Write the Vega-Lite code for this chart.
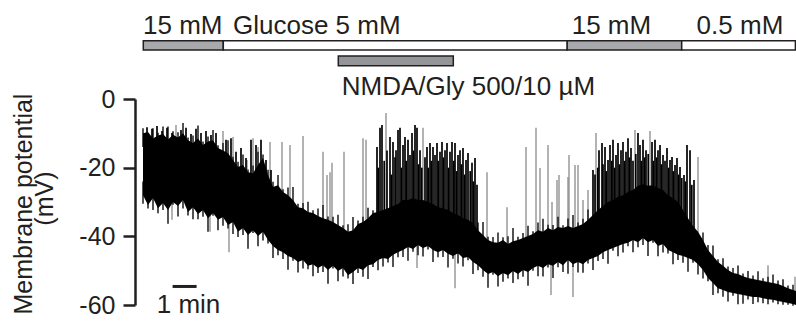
{
  "$schema": "https://vega.github.io/schema/vega-lite/v6.json",
  "width": 661,
  "height": 206,
  "autosize": {"type": "none"},
  "padding": {"left": 135, "top": 99, "right": 0, "bottom": 20},
  "config": {"view": {"stroke": null}, "font": "Liberation Sans"},
  "datasets": {
    "band": [
      {"t":20,"v":-10.0,"v2":-28.0},{"t":32.5,"v":-9.6,"v2":-30.9},{"t":45,"v":-11.5,"v2":-28.8},{"t":57.5,"v":-10.6,"v2":-31.8},
      {"t":70,"v":-10.2,"v2":-30.3},{"t":82.5,"v":-11.8,"v2":-32.3},{"t":95,"v":-10.4,"v2":-30.0},{"t":107.5,"v":-11.2,"v2":-31.2},
      {"t":120,"v":-10.0,"v2":-29.4},{"t":132.5,"v":-12.0,"v2":-32.9},{"t":145,"v":-12.8,"v2":-31.5},{"t":157.5,"v":-11.5,"v2":-33.5},
      {"t":170,"v":-13.4,"v2":-32.3},{"t":182.5,"v":-12.4,"v2":-34.7},{"t":195,"v":-12.0,"v2":-33.2},{"t":207.5,"v":-14.3,"v2":-35.2},
      {"t":220,"v":-15.0,"v2":-34.4},{"t":232.5,"v":-15.8,"v2":-36.7},{"t":245,"v":-17.8,"v2":-35.8},{"t":257.5,"v":-19.8,"v2":-38.7},
      {"t":270,"v":-19.2,"v2":-37.6},{"t":282.5,"v":-21.3,"v2":-39.6},{"t":295,"v":-21.6,"v2":-38.2},{"t":307.5,"v":-19.2,"v2":-39.9},
      {"t":320,"v":-17.2,"v2":-38.7},{"t":332.5,"v":-22.1,"v2":-41.1},{"t":345,"v":-25.6,"v2":-42.8},{"t":357.5,"v":-25.1,"v2":-44.0},
      {"t":370,"v":-27.1,"v2":-44.6},{"t":382.5,"v":-28.0,"v2":-45.7},{"t":395,"v":-29.4,"v2":-46.3},{"t":407.5,"v":-31.5,"v2":-47.5},
      {"t":420,"v":-31.8,"v2":-46.9},{"t":432.5,"v":-32.9,"v2":-48.6},{"t":445,"v":-33.2,"v2":-48.1},{"t":457.5,"v":-34.1,"v2":-49.2},
      {"t":470,"v":-34.7,"v2":-48.4},{"t":482.5,"v":-35.2,"v2":-49.8},{"t":495,"v":-35.8,"v2":-48.6},{"t":507.5,"v":-36.7,"v2":-50.1},
      {"t":520,"v":-37.6,"v2":-49.2},{"t":532.5,"v":-38.7,"v2":-51.3},{"t":545,"v":-38.2,"v2":-50.4},{"t":557.5,"v":-36.4,"v2":-49.2},
      {"t":570,"v":-35.8,"v2":-49.8},{"t":582.5,"v":-34.7,"v2":-48.4},{"t":595,"v":-33.2,"v2":-48.1},{"t":607.5,"v":-32.9,"v2":-46.9},
      {"t":620,"v":-32.3,"v2":-46.3},{"t":632.5,"v":-31.8,"v2":-46.6},{"t":645,"v":-31.2,"v2":-45.4},{"t":657.5,"v":-30.6,"v2":-44.6},
      {"t":670,"v":-29.4,"v2":-44.0},{"t":682.5,"v":-29.4,"v2":-43.1},{"t":695,"v":-28.8,"v2":-43.7},{"t":707.5,"v":-29.4,"v2":-42.5},
      {"t":720,"v":-29.4,"v2":-43.4},{"t":732.5,"v":-30.0,"v2":-42.8},{"t":745,"v":-30.6,"v2":-44.0},{"t":757.5,"v":-31.5,"v2":-44.6},
      {"t":770,"v":-31.8,"v2":-44.0},{"t":782.5,"v":-32.3,"v2":-45.1},{"t":795,"v":-33.2,"v2":-45.7},{"t":807.5,"v":-33.8,"v2":-44.9},
      {"t":820,"v":-34.7,"v2":-46.3},{"t":832.5,"v":-35.2,"v2":-46.0},{"t":845,"v":-36.1,"v2":-47.5},{"t":857.5,"v":-38.2,"v2":-48.4},
      {"t":870,"v":-39.6,"v2":-49.8},{"t":882.5,"v":-41.1,"v2":-51.0},{"t":895,"v":-41.7,"v2":-50.4},{"t":907.5,"v":-41.9,"v2":-51.6},
      {"t":920,"v":-41.1,"v2":-50.7},{"t":932.5,"v":-42.2,"v2":-51.3},{"t":945,"v":-41.4,"v2":-50.1},{"t":957.5,"v":-41.1,"v2":-51.0},
      {"t":970,"v":-40.5,"v2":-49.8},{"t":982.5,"v":-39.9,"v2":-50.4},{"t":995,"v":-39.3,"v2":-49.2},{"t":1007.5,"v":-38.2,"v2":-48.6},
      {"t":1020,"v":-38.7,"v2":-49.2},{"t":1032.5,"v":-37.6,"v2":-48.1},{"t":1045,"v":-38.2,"v2":-48.6},{"t":1057.5,"v":-37.3,"v2":-47.5},
      {"t":1070,"v":-37.6,"v2":-48.4},{"t":1082.5,"v":-37.0,"v2":-46.9},{"t":1095,"v":-37.6,"v2":-48.1},{"t":1107.5,"v":-37.0,"v2":-47.5},
      {"t":1120,"v":-36.4,"v2":-48.1},{"t":1132.5,"v":-35.2,"v2":-46.9},{"t":1145,"v":-33.8,"v2":-46.3},{"t":1157.5,"v":-32.3,"v2":-45.7},
      {"t":1170,"v":-31.2,"v2":-44.6},{"t":1182.5,"v":-30.0,"v2":-44.0},{"t":1195,"v":-29.4,"v2":-43.4},{"t":1207.5,"v":-28.5,"v2":-42.8},
      {"t":1220,"v":-28.0,"v2":-42.2},{"t":1232.5,"v":-27.1,"v2":-41.9},{"t":1245,"v":-26.5,"v2":-41.1},{"t":1257.5,"v":-25.3,"v2":-41.7},
      {"t":1270,"v":-24.8,"v2":-40.5},{"t":1282.5,"v":-25.3,"v2":-41.7},{"t":1295,"v":-25.1,"v2":-41.1},{"t":1307.5,"v":-25.9,"v2":-42.8},
      {"t":1320,"v":-26.5,"v2":-42.2},{"t":1332.5,"v":-28.0,"v2":-44.0},{"t":1345,"v":-28.8,"v2":-44.6},{"t":1357.5,"v":-30.0,"v2":-45.4},
      {"t":1370,"v":-32.3,"v2":-45.7},{"t":1382.5,"v":-34.7,"v2":-46.3},{"t":1395,"v":-37.0,"v2":-46.9},{"t":1407.5,"v":-38.7,"v2":-48.1},
      {"t":1420,"v":-41.1,"v2":-49.8},{"t":1432.5,"v":-44.0,"v2":-52.1},{"t":1445,"v":-45.7,"v2":-53.6},{"t":1457.5,"v":-47.5,"v2":-55.1},
      {"t":1470,"v":-48.6,"v2":-55.6},{"t":1482.5,"v":-49.8,"v2":-56.2},{"t":1495,"v":-50.7,"v2":-56.5},{"t":1507.5,"v":-51.0,"v2":-56.8},
      {"t":1520,"v":-51.6,"v2":-57.1},{"t":1532.5,"v":-52.1,"v2":-57.4},{"t":1545,"v":-52.4,"v2":-57.7},{"t":1557.5,"v":-52.7,"v2":-57.7},
      {"t":1570,"v":-53.0,"v2":-58.0},{"t":1582.5,"v":-53.3,"v2":-58.3},{"t":1595,"v":-53.6,"v2":-58.5},{"t":1607.5,"v":-53.9,"v2":-58.8},
      {"t":1620,"v":-54.5,"v2":-59.1},{"t":1632.5,"v":-55.1,"v2":-59.4},{"t":1645,"v":-55.6,"v2":-59.7},{"t":1652.5,"v":-55.9,"v2":-60.0}
    ],
    "spikes": [
      {"t":30,"v":-8.2,"v2":-22,"k":"b"},{"t":42.5,"v":-8.7,"v2":-22,"k":"b"},{"t":55,"v":-7.9,"v2":-22,"k":"b"},{"t":67.5,"v":-9.3,"v2":-22,"k":"b"},
      {"t":80,"v":-8.4,"v2":-22,"k":"b"},{"t":92.5,"v":-9.9,"v2":-22,"k":"b"},{"t":115,"v":-9.0,"v2":-22,"k":"b"},{"t":127.5,"v":-8.4,"v2":-22,"k":"b"},
      {"t":140,"v":-10.2,"v2":-22,"k":"b"},{"t":152.5,"v":-8.7,"v2":-22,"k":"b"},{"t":165,"v":-9.9,"v2":-22,"k":"b"},{"t":177.5,"v":-9.3,"v2":-22,"k":"b"},
      {"t":190,"v":-10.5,"v2":-22,"k":"b"},{"t":202.5,"v":-9.9,"v2":-24,"k":"b"},{"t":227.5,"v":-11.9,"v2":-26,"k":"b"},{"t":240,"v":-11.4,"v2":-26,"k":"b"},
      {"t":252.5,"v":-15.4,"v2":-30,"k":"b"},{"t":265,"v":-14.3,"v2":-30,"k":"b"},{"t":277.5,"v":-17.2,"v2":-30,"k":"b"},{"t":290,"v":-11.9,"v2":-30,"k":"b"},
      {"t":302.5,"v":-13.4,"v2":-30,"k":"b"},{"t":315,"v":-11.9,"v2":-30,"k":"b"},{"t":327.5,"v":-17.8,"v2":-30,"k":"b"},{"t":340,"v":-20.7,"v2":-32,"k":"b"},
      {"t":102.5,"v":-7.6,"v2":-22,"k":"g"},{"t":220,"v":-9.3,"v2":-25,"k":"g"},{"t":245,"v":-11.1,"v2":-30,"k":"g"},{"t":280,"v":-17.8,"v2":-30,"k":"g"},
      {"t":295,"v":-11.4,"v2":-30,"k":"g"},{"t":307.5,"v":-14.0,"v2":-30,"k":"g"},{"t":337.5,"v":-12.5,"v2":-35,"k":"g"},{"t":367.5,"v":-12.5,"v2":-38,"k":"g"},
      {"t":387.5,"v":-13.4,"v2":-40,"k":"g"},{"t":420,"v":-10.8,"v2":-40,"k":"g"},{"t":470,"v":-15.4,"v2":-42,"k":"g"},{"t":480,"v":-22.1,"v2":-42,"k":"g"},
      {"t":487.5,"v":-21.3,"v2":-42,"k":"g"},{"t":492.5,"v":-18.6,"v2":-42,"k":"g"},{"t":522.5,"v":-15.4,"v2":-42,"k":"g"},{"t":570,"v":-11.4,"v2":-40,"k":"g"},
      {"t":577.5,"v":-11.9,"v2":-40,"k":"g"},{"t":627.5,"v":-4.1,"v2":-38,"k":"g"},{"t":720,"v":-8.4,"v2":-36,"k":"g"},{"t":880,"v":-21.3,"v2":-46,"k":"g"},
      {"t":930,"v":-31.5,"v2":-46,"k":"g"},{"t":977.5,"v":-14.0,"v2":-44,"k":"g"},{"t":1002.5,"v":-8.4,"v2":-44,"k":"g"},{"t":1012.5,"v":-20.1,"v2":-44,"k":"g"},
      {"t":1032.5,"v":-13.4,"v2":-43,"k":"g"},{"t":1042.5,"v":-30.0,"v2":-43,"k":"g"},{"t":1055,"v":-23.6,"v2":-43,"k":"g"},{"t":1060,"v":-22.1,"v2":-43,"k":"g"},
      {"t":1082.5,"v":-22.7,"v2":-42,"k":"g"},{"t":1085,"v":-16.3,"v2":-42,"k":"g"},{"t":1100,"v":-19.2,"v2":-42,"k":"g"},{"t":1107.5,"v":-19.2,"v2":-42,"k":"g"},
      {"t":1120,"v":-29.4,"v2":-42,"k":"g"},{"t":1132.5,"v":-26.5,"v2":-41,"k":"g"},{"t":1152.5,"v":-9.9,"v2":-38,"k":"g"},{"t":1250,"v":-9.0,"v2":-34,"k":"g"},
      {"t":1287.5,"v":-9.3,"v2":-32,"k":"g"},{"t":1407.5,"v":-16.9,"v2":-42,"k":"g"},{"t":1582.5,"v":-48.4,"v2":-56,"k":"g"},{"t":1650,"v":-51.8,"v2":-57,"k":"g"},
      {"t":92.5,"v":-35.2,"v2":-25,"k":"g"},{"t":187.5,"v":-38.7,"v2":-28,"k":"g"},{"t":235,"v":-44.6,"v2":-30,"k":"g"},{"t":705,"v":-49.2,"v2":-38,"k":"g"},
      {"t":800,"v":-55.1,"v2":-40,"k":"g"},{"t":1040,"v":-57.1,"v2":-44,"k":"g"},{"t":1095,"v":-57.7,"v2":-44,"k":"g"},
      {"t":605,"v":-14.0,"v2":-38,"k":"b"},{"t":612.5,"v":-8.4,"v2":-38,"k":"b"},{"t":617.5,"v":-7.6,"v2":-38,"k":"b"},{"t":637.5,"v":-11.1,"v2":-38,"k":"b"},
      {"t":645,"v":-12.5,"v2":-38,"k":"b"},{"t":652.5,"v":-14.9,"v2":-38,"k":"b"},{"t":657.5,"v":-9.0,"v2":-38,"k":"b"},{"t":662.5,"v":-8.4,"v2":-38,"k":"b"},
      {"t":670,"v":-13.4,"v2":-38,"k":"b"},{"t":675,"v":-11.1,"v2":-38,"k":"b"},{"t":682.5,"v":-11.9,"v2":-38,"k":"b"},{"t":687.5,"v":-16.3,"v2":-38,"k":"b"},
      {"t":692.5,"v":-9.9,"v2":-38,"k":"b"},{"t":700,"v":-7.6,"v2":-38,"k":"b"},{"t":705,"v":-8.4,"v2":-38,"k":"b"},{"t":712.5,"v":-14.9,"v2":-38,"k":"b"},
      {"t":730,"v":-14.0,"v2":-38,"k":"b"},{"t":737.5,"v":-12.8,"v2":-38,"k":"b"},{"t":745,"v":-14.0,"v2":-38,"k":"b"},{"t":750,"v":-16.3,"v2":-38,"k":"b"},
      {"t":755,"v":-12.8,"v2":-38,"k":"b"},{"t":762.5,"v":-15.4,"v2":-38,"k":"b"},{"t":767.5,"v":-12.5,"v2":-38,"k":"b"},{"t":775,"v":-14.9,"v2":-38,"k":"b"},
      {"t":780,"v":-12.8,"v2":-38,"k":"b"},{"t":787.5,"v":-15.4,"v2":-38,"k":"b"},{"t":792.5,"v":-12.5,"v2":-38,"k":"b"},{"t":800,"v":-12.8,"v2":-38,"k":"b"},
      {"t":807.5,"v":-16.3,"v2":-38,"k":"b"},{"t":812.5,"v":-14.9,"v2":-38,"k":"b"},{"t":820,"v":-14.3,"v2":-38,"k":"b"},{"t":827.5,"v":-17.8,"v2":-38,"k":"b"},
      {"t":832.5,"v":-15.7,"v2":-38,"k":"b"},{"t":842.5,"v":-18.6,"v2":-40,"k":"b"},{"t":850,"v":-17.2,"v2":-40,"k":"b"},
      {"t":608,"v":-20,"v2":-38,"k":"b"},{"t":623,"v":-18,"v2":-38,"k":"b"},{"t":630,"v":-15,"v2":-38,"k":"b"},{"t":641,"v":-22,"v2":-38,"k":"b"},
      {"t":650,"v":-17,"v2":-38,"k":"b"},{"t":666,"v":-20,"v2":-38,"k":"b"},{"t":678,"v":-18,"v2":-38,"k":"b"},{"t":696,"v":-15,"v2":-38,"k":"b"},
      {"t":709,"v":-19,"v2":-38,"k":"b"},{"t":717,"v":-20,"v2":-38,"k":"b"},{"t":725,"v":-17,"v2":-38,"k":"b"},{"t":733,"v":-20,"v2":-38,"k":"b"},
      {"t":741,"v":-18,"v2":-38,"k":"b"},{"t":758,"v":-18,"v2":-38,"k":"b"},{"t":771,"v":-17,"v2":-38,"k":"b"},{"t":784,"v":-20,"v2":-38,"k":"b"},
      {"t":797,"v":-18,"v2":-38,"k":"b"},{"t":804,"v":-21,"v2":-38,"k":"b"},{"t":816,"v":-19,"v2":-38,"k":"b"},{"t":824,"v":-22,"v2":-40,"k":"b"},
      {"t":838,"v":-21,"v2":-40,"k":"b"},{"t":846,"v":-24,"v2":-40,"k":"b"},{"t":855,"v":-25,"v2":-42,"k":"b"},
      {"t":1145,"v":-20.7,"v2":-36,"k":"b"},{"t":1160,"v":-14.9,"v2":-34,"k":"b"},{"t":1167.5,"v":-12.8,"v2":-34,"k":"b"},{"t":1175,"v":-14.0,"v2":-34,"k":"b"},
      {"t":1182.5,"v":-17.8,"v2":-34,"k":"b"},{"t":1187.5,"v":-13.4,"v2":-34,"k":"b"},{"t":1195,"v":-11.9,"v2":-34,"k":"b"},{"t":1202.5,"v":-16.3,"v2":-34,"k":"b"},
      {"t":1207.5,"v":-12.8,"v2":-34,"k":"b"},{"t":1215,"v":-14.9,"v2":-34,"k":"b"},{"t":1220,"v":-12.5,"v2":-34,"k":"b"},{"t":1227.5,"v":-15.4,"v2":-34,"k":"b"},
      {"t":1232.5,"v":-11.4,"v2":-34,"k":"b"},{"t":1240,"v":-14.3,"v2":-34,"k":"b"},{"t":1257.5,"v":-9.9,"v2":-34,"k":"b"},{"t":1262.5,"v":-13.4,"v2":-34,"k":"b"},
      {"t":1270,"v":-11.9,"v2":-34,"k":"b"},{"t":1277.5,"v":-14.9,"v2":-34,"k":"b"},{"t":1292.5,"v":-12.5,"v2":-34,"k":"b"},{"t":1300,"v":-11.9,"v2":-34,"k":"b"},
      {"t":1307.5,"v":-14.9,"v2":-34,"k":"b"},{"t":1312.5,"v":-13.4,"v2":-34,"k":"b"},{"t":1320,"v":-16.3,"v2":-34,"k":"b"},{"t":1330,"v":-14.3,"v2":-34,"k":"b"},
      {"t":1337.5,"v":-17.8,"v2":-36,"k":"b"},{"t":1342.5,"v":-16.9,"v2":-36,"k":"b"},{"t":1350,"v":-19.2,"v2":-36,"k":"b"},{"t":1355,"v":-17.2,"v2":-36,"k":"b"},
      {"t":1362.5,"v":-19.8,"v2":-38,"k":"b"},{"t":1372.5,"v":-22.1,"v2":-38,"k":"b"},{"t":1380,"v":-13.4,"v2":-40,"k":"b"},{"t":1387.5,"v":-14.9,"v2":-40,"k":"b"},
      {"t":1397.5,"v":-23.6,"v2":-42,"k":"b"},
      {"t":1150,"v":-22,"v2":-36,"k":"b"},{"t":1157,"v":-20,"v2":-36,"k":"b"},{"t":1170,"v":-19,"v2":-34,"k":"b"},{"t":1178,"v":-21,"v2":-34,"k":"b"},
      {"t":1192,"v":-18,"v2":-34,"k":"b"},{"t":1199,"v":-20,"v2":-34,"k":"b"},{"t":1211,"v":-19,"v2":-34,"k":"b"},{"t":1224,"v":-18,"v2":-34,"k":"b"},
      {"t":1236,"v":-17,"v2":-34,"k":"b"},{"t":1245,"v":-18,"v2":-34,"k":"b"},{"t":1252,"v":-16,"v2":-34,"k":"b"},{"t":1266,"v":-18,"v2":-34,"k":"b"},
      {"t":1274,"v":-17,"v2":-34,"k":"b"},{"t":1283,"v":-16,"v2":-34,"k":"b"},{"t":1296,"v":-18,"v2":-34,"k":"b"},{"t":1304,"v":-17,"v2":-34,"k":"b"},
      {"t":1316,"v":-19,"v2":-34,"k":"b"},{"t":1325,"v":-18,"v2":-34,"k":"b"},{"t":1334,"v":-20,"v2":-36,"k":"b"},{"t":1346,"v":-21,"v2":-36,"k":"b"},
      {"t":1359,"v":-22,"v2":-38,"k":"b"},{"t":1367,"v":-23,"v2":-38,"k":"b"},{"t":1376,"v":-24,"v2":-40,"k":"b"},{"t":1392,"v":-25,"v2":-42,"k":"b"}
    ],
    "hairs": [
      {"t":20,"v":-30.5,"v2":-24.0},{"t":32.5,"v":-31.9,"v2":-26.9},{"t":45,"v":-32.3,"v2":-24.8},{"t":57.5,"v":-33.3,"v2":-27.8},
      {"t":70,"v":-32.3,"v2":-26.3},{"t":82.5,"v":-36.3,"v2":-28.3},{"t":95,"v":-30.8,"v2":-26.0},{"t":107.5,"v":-34.2,"v2":-27.2},
      {"t":120,"v":-31.9,"v2":-25.4},{"t":132.5,"v":-33.9,"v2":-28.9},{"t":145,"v":-35.0,"v2":-27.5},{"t":157.5,"v":-35.0,"v2":-29.5},
      {"t":170,"v":-34.3,"v2":-28.3},{"t":182.5,"v":-38.7,"v2":-30.7},{"t":195,"v":-34.0,"v2":-29.2},{"t":207.5,"v":-38.2,"v2":-31.2},
      {"t":220,"v":-36.9,"v2":-30.4},{"t":232.5,"v":-37.7,"v2":-32.7},{"t":245,"v":-39.3,"v2":-31.8},{"t":257.5,"v":-40.2,"v2":-34.7},
      {"t":270,"v":-39.6,"v2":-33.6},{"t":282.5,"v":-43.6,"v2":-35.6},{"t":295,"v":-39.0,"v2":-34.2},{"t":307.5,"v":-42.9,"v2":-35.9},
      {"t":320,"v":-41.2,"v2":-34.7},{"t":332.5,"v":-42.1,"v2":-37.1},{"t":345,"v":-46.3,"v2":-38.8},{"t":357.5,"v":-45.5,"v2":-40.0},
      {"t":370,"v":-46.6,"v2":-40.6},{"t":382.5,"v":-49.7,"v2":-41.7},{"t":395,"v":-47.1,"v2":-42.3},{"t":407.5,"v":-50.5,"v2":-43.5},
      {"t":420,"v":-49.4,"v2":-42.9},{"t":432.5,"v":-49.6,"v2":-44.6},{"t":445,"v":-51.6,"v2":-44.1},{"t":457.5,"v":-50.7,"v2":-45.2},
      {"t":470,"v":-50.4,"v2":-44.4},{"t":482.5,"v":-53.8,"v2":-45.8},{"t":495,"v":-49.4,"v2":-44.6},{"t":507.5,"v":-53.1,"v2":-46.1},
      {"t":520,"v":-51.7,"v2":-45.2},{"t":532.5,"v":-52.3,"v2":-47.3},{"t":545,"v":-53.9,"v2":-46.4},{"t":557.5,"v":-50.7,"v2":-45.2},
      {"t":570,"v":-51.8,"v2":-45.8},{"t":582.5,"v":-52.4,"v2":-44.4},{"t":595,"v":-48.9,"v2":-44.1},{"t":607.5,"v":-49.9,"v2":-42.9},
      {"t":620,"v":-48.8,"v2":-42.3},{"t":632.5,"v":-47.6,"v2":-42.6},{"t":645,"v":-48.9,"v2":-41.4},{"t":657.5,"v":-46.1,"v2":-40.6},
      {"t":670,"v":-46.0,"v2":-40.0},{"t":682.5,"v":-47.1,"v2":-39.1},{"t":695,"v":-44.5,"v2":-39.7},{"t":707.5,"v":-45.5,"v2":-38.5},
      {"t":720,"v":-45.9,"v2":-39.4},{"t":732.5,"v":-43.8,"v2":-38.8},{"t":745,"v":-47.5,"v2":-40.0},{"t":757.5,"v":-46.1,"v2":-40.6},
      {"t":770,"v":-46.0,"v2":-40.0},{"t":782.5,"v":-49.1,"v2":-41.1},{"t":795,"v":-46.5,"v2":-41.7},{"t":807.5,"v":-47.9,"v2":-40.9},
      {"t":820,"v":-48.8,"v2":-42.3},{"t":832.5,"v":-47.0,"v2":-42.0},{"t":845,"v":-51.0,"v2":-43.5},{"t":857.5,"v":-49.9,"v2":-44.4},
      {"t":870,"v":-51.8,"v2":-45.8},{"t":882.5,"v":-55.0,"v2":-47.0},{"t":895,"v":-51.2,"v2":-46.4},{"t":907.5,"v":-54.6,"v2":-47.6},
      {"t":920,"v":-53.2,"v2":-46.7},{"t":932.5,"v":-52.3,"v2":-47.3},{"t":945,"v":-53.6,"v2":-46.1},{"t":957.5,"v":-52.5,"v2":-47.0},
      {"t":970,"v":-51.8,"v2":-45.8},{"t":982.5,"v":-54.4,"v2":-46.4},{"t":995,"v":-50.0,"v2":-45.2},{"t":1007.5,"v":-51.6,"v2":-44.6},
      {"t":1020,"v":-51.7,"v2":-45.2},{"t":1032.5,"v":-49.1,"v2":-44.1},{"t":1045,"v":-52.1,"v2":-44.6},{"t":1057.5,"v":-49.0,"v2":-43.5},
      {"t":1070,"v":-50.4,"v2":-44.4},{"t":1082.5,"v":-50.9,"v2":-42.9},{"t":1095,"v":-48.9,"v2":-44.1},{"t":1107.5,"v":-50.5,"v2":-43.5},
      {"t":1120,"v":-50.6,"v2":-44.1},{"t":1132.5,"v":-47.9,"v2":-42.9},{"t":1145,"v":-49.8,"v2":-42.3},{"t":1157.5,"v":-47.2,"v2":-41.7},
      {"t":1170,"v":-46.6,"v2":-40.6},{"t":1182.5,"v":-48.0,"v2":-40.0},{"t":1195,"v":-44.2,"v2":-39.4},{"t":1207.5,"v":-45.8,"v2":-38.8},
      {"t":1220,"v":-44.7,"v2":-38.2},{"t":1232.5,"v":-42.9,"v2":-37.9},{"t":1245,"v":-44.6,"v2":-37.1},{"t":1257.5,"v":-43.2,"v2":-37.7},
      {"t":1270,"v":-42.5,"v2":-36.5},{"t":1282.5,"v":-45.7,"v2":-37.7},{"t":1295,"v":-41.9,"v2":-37.1},{"t":1307.5,"v":-45.8,"v2":-38.8},
      {"t":1320,"v":-44.7,"v2":-38.2},{"t":1332.5,"v":-45.0,"v2":-40.0},{"t":1345,"v":-48.1,"v2":-40.6},{"t":1357.5,"v":-46.9,"v2":-41.4},
      {"t":1370,"v":-47.7,"v2":-41.7},{"t":1382.5,"v":-50.3,"v2":-42.3},{"t":1395,"v":-47.7,"v2":-42.9},{"t":1407.5,"v":-51.1,"v2":-44.1},
      {"t":1420,"v":-52.3,"v2":-45.8},{"t":1432.5,"v":-53.1,"v2":-48.1},{"t":1445,"v":-57.1,"v2":-49.6},{"t":1457.5,"v":-56.6,"v2":-51.1},
      {"t":1470,"v":-57.6,"v2":-51.6},{"t":1482.5,"v":-59.0,"v2":-52.2},{"t":1495,"v":-57.3,"v2":-52.5},{"t":1507.5,"v":-59.8,"v2":-52.8},
      {"t":1520,"v":-59.6,"v2":-53.1},{"t":1532.5,"v":-58.4,"v2":-53.4},{"t":1545,"v":-59.7,"v2":-53.7},{"t":1557.5,"v":-59.2,"v2":-53.7},
      {"t":1570,"v":-59.5,"v2":-54.0},{"t":1582.5,"v":-59.8,"v2":-54.3},{"t":1595,"v":-59.3,"v2":-54.5},{"t":1607.5,"v":-59.8,"v2":-54.8},
      {"t":1620,"v":-59.9,"v2":-55.1},{"t":1632.5,"v":-59.9,"v2":-55.4},{"t":1645,"v":-60.2,"v2":-55.7},
      {"t":20,"v":-8.5,"v2":-14},{"t":45,"v":-8.5,"v2":-15},{"t":57.5,"v":-9.8,"v2":-15},{"t":70,"v":-8.0,"v2":-14},
      {"t":82.5,"v":-8.0,"v2":-15},{"t":95,"v":-9.4,"v2":-14},{"t":107.5,"v":-9.7,"v2":-15},{"t":120,"v":-7.0,"v2":-14},
      {"t":132.5,"v":-11.2,"v2":-16},{"t":145,"v":-10.6,"v2":-16},{"t":157.5,"v":-7.7,"v2":-15},{"t":170,"v":-12.4,"v2":-17},
      {"t":182.5,"v":-10.9,"v2":-16},{"t":195,"v":-9.0,"v2":-16},{"t":207.5,"v":-13.5,"v2":-18},{"t":220,"v":-12.8,"v2":-19},
      {"t":232.5,"v":-12.0,"v2":-19},{"t":245,"v":-16.8,"v2":-21},{"t":257.5,"v":-18.3,"v2":-23},{"t":270,"v":-16.2,"v2":-23},
      {"t":282.5,"v":-20.5,"v2":-25},{"t":295,"v":-19.4,"v2":-25},{"t":307.5,"v":-15.4,"v2":-23},{"t":320,"v":-16.2,"v2":-21},
      {"t":332.5,"v":-20.6,"v2":-26},
      {"t":345,"v":-24.1,"v2":-29},{"t":357.5,"v":-22.1,"v2":-29},{"t":370,"v":-26.3,"v2":-31},{"t":382.5,"v":-25.8,"v2":-32},
      {"t":395,"v":-25.6,"v2":-33},{"t":407.5,"v":-30.5,"v2":-35},{"t":420,"v":-30.3,"v2":-35},{"t":432.5,"v":-29.9,"v2":-36},
      {"t":445,"v":-32.4,"v2":-37},{"t":457.5,"v":-31.9,"v2":-38},{"t":470,"v":-30.9,"v2":-38},{"t":482.5,"v":-34.2,"v2":-39},
      {"t":495,"v":-34.3,"v2":-39},{"t":507.5,"v":-33.7,"v2":-40},{"t":520,"v":-36.8,"v2":-41},{"t":532.5,"v":-36.5,"v2":-42},
      {"t":545,"v":-34.4,"v2":-42},{"t":557.5,"v":-35.4,"v2":-40},{"t":570,"v":-34.3,"v2":-39},{"t":582.5,"v":-31.7,"v2":-38},
      {"t":595,"v":-32.4,"v2":-37},
      {"t":857.5,"v":-36.0,"v2":-42},{"t":870,"v":-35.8,"v2":-43},{"t":882.5,"v":-40.1,"v2":-45},{"t":895,"v":-40.2,"v2":-45},
      {"t":907.5,"v":-38.9,"v2":-45},{"t":920,"v":-40.3,"v2":-45},{"t":932.5,"v":-40.0,"v2":-46},{"t":945,"v":-37.6,"v2":-45},
      {"t":957.5,"v":-40.1,"v2":-45},{"t":970,"v":-39.0,"v2":-44},{"t":982.5,"v":-36.9,"v2":-44},{"t":995,"v":-38.5,"v2":-43},
      {"t":1007.5,"v":-36.0,"v2":-42},{"t":1020,"v":-34.9,"v2":-42},{"t":1032.5,"v":-36.6,"v2":-41},{"t":1045,"v":-36.7,"v2":-42},
      {"t":1057.5,"v":-34.3,"v2":-41},{"t":1070,"v":-36.8,"v2":-41},{"t":1082.5,"v":-34.8,"v2":-41},{"t":1095,"v":-33.8,"v2":-41},
      {"t":1107.5,"v":-36.0,"v2":-41},{"t":1120,"v":-34.9,"v2":-40},{"t":1132.5,"v":-32.2,"v2":-39},
      {"t":1420,"v":-38.9,"v2":-45},{"t":1432.5,"v":-42.5,"v2":-48},{"t":1445,"v":-42.7,"v2":-49},{"t":1457.5,"v":-46.7,"v2":-51},
      {"t":1470,"v":-46.4,"v2":-52},{"t":1482.5,"v":-48.8,"v2":-53},{"t":1495,"v":-49.2,"v2":-54},{"t":1507.5,"v":-48.5,"v2":-54},
      {"t":1520,"v":-50.8,"v2":-55},{"t":1532.5,"v":-50.1,"v2":-55},{"t":1545,"v":-51.4,"v2":-55},{"t":1557.5,"v":-50.2,"v2":-56},
      {"t":1570,"v":-52.2,"v2":-56},{"t":1582.5,"v":-51.8,"v2":-56},{"t":1595,"v":-51.1,"v2":-56},{"t":1607.5,"v":-52.9,"v2":-57},
      {"t":1620,"v":-52.5,"v2":-57},{"t":1632.5,"v":-54.3,"v2":-58},{"t":1645,"v":-54.1,"v2":-58}
    ],
    "conds": [
      {"t":20.75,"t2":220.75,"v":17.0,"v2":14.3,"k":"hi"},
      {"t":220.75,"t2":1080,"v":17.0,"v2":14.3,"k":"lo"},
      {"t":1080,"t2":1366.75,"v":17.0,"v2":14.3,"k":"hi"},
      {"t":1366.75,"t2":1651,"v":17.0,"v2":14.3,"k":"lo"},
      {"t":508.25,"t2":795.75,"v":12.5,"v2":9.7,"k":"nm"}
    ],
    "labels": [
      {"t":20,"v":18.9,"s":"15 mM"},
      {"t":245,"v":18.9,"s":"Glucose 5 mM"},
      {"t":1091.75,"v":18.9,"s":"15 mM"},
      {"t":1404,"v":18.9,"s":"0.5 mM"},
      {"t":516.75,"v":1.2,"s":"NMDA/Gly 500/10 µM"},
      {"t":54.25,"v":-62.3,"s":"1 min"}
    ],
    "ytitle": [
      {"t":-277.5,"v":-30.6,"s":"Membrane potential"},
      {"t":-225,"v":-29.0,"s":"(mV)"}
    ],
    "bar": [{"t":94,"t2":154,"v":-54.6}]
  },
  "encoding": {
    "x": {"field": "t", "type": "quantitative", "scale": {"domain": [0, 1652.5], "nice": false, "zero": false}, "axis": null},
    "y": {
      "field": "v", "type": "quantitative",
      "scale": {"domain": [-60, 0], "nice": false, "zero": false},
      "axis": {
        "values": [0, -20, -40, -60],
        "labelExpr": "datum.value + ''",
        "grid": false,
        "title": null,
        "labelFont": "Liberation Sans", "labelFontSize": 25, "labelColor": "#231f20", "labelPadding": 8,
        "tickSize": 12, "tickWidth": 2.5, "tickColor": "#231f20",
        "domainWidth": 2.5, "domainColor": "#231f20"
      }
    }
  },
  "layer": [
    {"data": {"name": "spikes"}, "transform": [{"filter": "datum.k == 'g'"}],
     "mark": {"type": "rule", "color": "#8a8a8a", "strokeWidth": 1.3},
     "encoding": {"y2": {"field": "v2"}}},
    {"data": {"name": "hairs"},
     "mark": {"type": "rule", "color": "#1a1a1a", "strokeWidth": 1.5},
     "encoding": {"y2": {"field": "v2"}}},
    {"data": {"name": "band"},
     "mark": {"type": "area", "color": "#000000", "interpolate": "linear"},
     "encoding": {"y2": {"field": "v2"}}},
    {"data": {"name": "spikes"}, "transform": [{"filter": "datum.k == 'b'"}],
     "mark": {"type": "rule", "color": "#000000", "strokeWidth": 1.7},
     "encoding": {"y2": {"field": "v2"}}},
    {"data": {"name": "conds"}, "transform": [{"filter": "datum.k == 'hi'"}],
     "mark": {"type": "rect", "fill": "#a7a9ac", "stroke": "#231f20", "strokeWidth": 1.5},
     "encoding": {"x2": {"field": "t2"}, "y2": {"field": "v2"}}},
    {"data": {"name": "conds"}, "transform": [{"filter": "datum.k == 'lo'"}],
     "mark": {"type": "rect", "fill": "#ffffff", "stroke": "#231f20", "strokeWidth": 1.5},
     "encoding": {"x2": {"field": "t2"}, "y2": {"field": "v2"}}},
    {"data": {"name": "conds"}, "transform": [{"filter": "datum.k == 'nm'"}],
     "mark": {"type": "rect", "fill": "#939598", "stroke": "#231f20", "strokeWidth": 1.5},
     "encoding": {"x2": {"field": "t2"}, "y2": {"field": "v2"}}},
    {"data": {"name": "labels"},
     "mark": {"type": "text", "align": "left", "baseline": "alphabetic", "fontSize": 26, "font": "Liberation Sans", "color": "#231f20"},
     "encoding": {"text": {"field": "s"}}},
    {"data": {"name": "ytitle"},
     "mark": {"type": "text", "align": "center", "baseline": "middle", "angle": 270, "fontSize": 25, "font": "Liberation Sans", "color": "#231f20"},
     "encoding": {"text": {"field": "s"}}},
    {"data": {"name": "bar"},
     "mark": {"type": "rule", "color": "#231f20", "strokeWidth": 3},
     "encoding": {"x2": {"field": "t2"}}}
  ]
}
